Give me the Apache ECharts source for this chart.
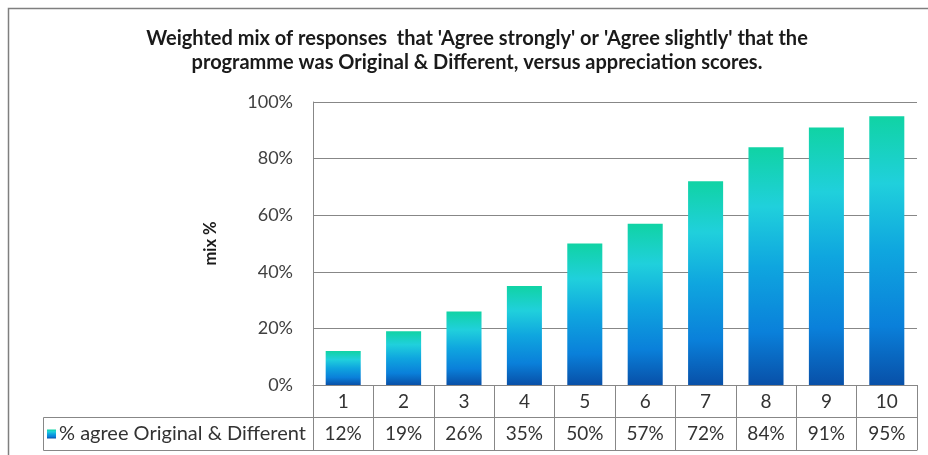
<!DOCTYPE html>
<html>
<head>
<meta charset="utf-8">
<script src="https://cdn.jsdelivr.net/npm/echarts@6/dist/echarts.min.js"></script>
<style>
html,body{margin:0;padding:0;background:#fff;}
#chart{width:928px;height:455px;}
</style>
</head>
<body>
<div id="chart"></div>
<script>
var categories = ['1','2','3','4','5','6','7','8','9','10'];
var agreeValues = [0.12, 0.19, 0.26, 0.35, 0.50, 0.57, 0.72, 0.84, 0.91, 0.95];
var yTicks = [0, 0.2, 0.4, 0.6, 0.8, 1.0];
var seriesName = '% agree Original & Different';
var titleText = "Weighted mix of responses  that 'Agree strongly' or 'Agree slightly' that the\nprogramme was Original & Different, versus appreciation scores.";

var FONT = 'Lato, "Open Sans", sans-serif';
var GRID_COLOR = '#878787';
var pct = function (v) { return Math.round(v * 100) + '%'; };

var barGradient = new echarts.graphic.LinearGradient(0, 0, 0, 1, [
  {offset: 0, color: '#10d3a4'},
  {offset: 0.25, color: '#20d0dc'},
  {offset: 0.5, color: '#0fa6df'},
  {offset: 0.78, color: '#0a80da'},
  {offset: 1, color: '#0850a8'}
]);

var chart = echarts.init(document.getElementById('chart'));
var GRID = {left: 313, right: 11, top: 102, bottom: 70};

chart.setOption({
  animation: false,
  backgroundColor: '#ffffff',
  textStyle: {fontFamily: FONT},
  title: {
    text: titleText,
    left: 472,
    textAlign: 'center',
    top: 22,
    textStyle: {fontFamily: FONT, fontSize: 20, fontWeight: 'bold', color: '#1a1a1a', lineHeight: 24}
  },
  grid: GRID,
  legend: {
    left: 47,
    top: 424,
    itemWidth: 9,
    itemHeight: 9,
    icon: 'rect',
    padding: 0,
    textStyle: {fontFamily: FONT, fontSize: 20, color: '#333333', padding: [0, 0, 0, -2]},
    data: [seriesName]
  },
  xAxis: [
    {
      type: 'category',
      data: categories,
      position: 'bottom',
      axisLine: {show: true, lineStyle: {color: GRID_COLOR, width: 1}},
      axisTick: {show: true, length: 65, lineStyle: {color: GRID_COLOR, width: 1}},
      axisLabel: {fontFamily: FONT, fontSize: 19, color: '#333333', margin: 7},
      splitLine: {show: false}
    },
    {
      type: 'category',
      data: agreeValues.map(pct),
      position: 'bottom',
      offset: 32,
      axisLine: {show: true, lineStyle: {color: GRID_COLOR, width: 1}},
      axisTick: {show: false},
      axisLabel: {fontFamily: FONT, fontSize: 19, color: '#333333', margin: 7},
      splitLine: {show: false}
    },
    {
      type: 'category',
      data: categories,
      position: 'bottom',
      offset: 65,
      axisLine: {show: true, lineStyle: {color: GRID_COLOR, width: 1}},
      axisTick: {show: false},
      axisLabel: {show: false},
      splitLine: {show: false}
    }
  ],
  yAxis: {
    type: 'value',
    min: yTicks[0],
    max: yTicks[yTicks.length - 1],
    interval: 0.2,
    name: 'mix %',
    nameLocation: 'middle',
    nameRotate: 90,
    nameGap: 94,
    nameTextStyle: {fontFamily: FONT, fontSize: 16.5, fontWeight: 'bold', color: '#1a1a1a'},
    axisLine: {show: true, lineStyle: {color: GRID_COLOR, width: 1}},
    axisTick: {show: false},
    axisLabel: {fontFamily: FONT, fontSize: 18, color: '#404040', margin: 20, formatter: pct},
    splitLine: {show: true, lineStyle: {color: GRID_COLOR, width: 1}}
  },
  series: [{
    name: seriesName,
    type: 'bar',
    xAxisIndex: 0,
    data: agreeValues,
    barWidth: '58%',
    itemStyle: {color: barGradient}
  }],
  graphic: [
    {
      type: 'rect',
      shape: {x: 8.5, y: 8.5, width: 960, height: 500},
      style: {fill: 'none', stroke: '#7f7f7f', lineWidth: 1.5},
      silent: true
    },
    {
      type: 'rect',
      shape: {x: 43.5, y: 417.5, width: 270, height: 33},
      style: {fill: 'none', stroke: GRID_COLOR, lineWidth: 1},
      silent: true
    }
  ]
});
</script>
</body>
</html>
